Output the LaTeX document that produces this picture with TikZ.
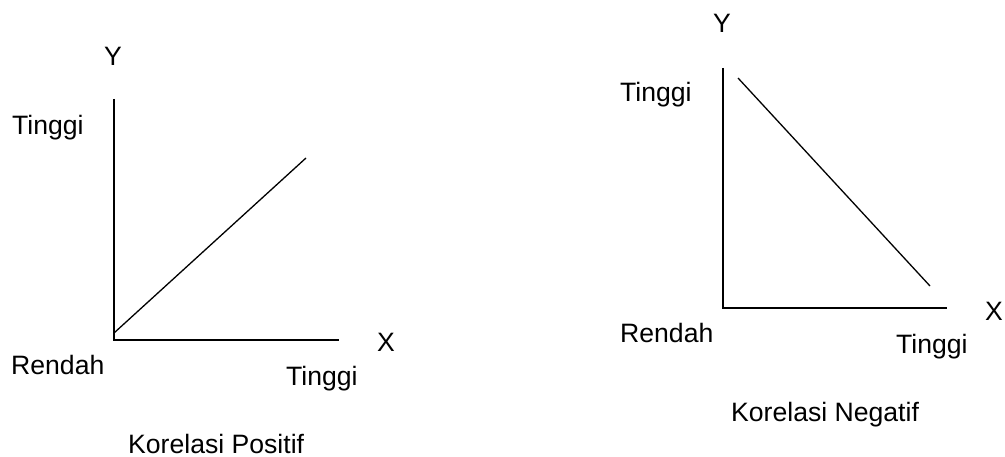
\documentclass[tikz,border=0pt]{standalone}
\usepackage{fontspec}
\setmainfont{Liberation Sans}
\begin{document}
\begin{tikzpicture}[x=1pt,y=1pt,
  lbl/.style={inner sep=0pt,font=\fontsize{26.6}{30}\selectfont},
  axis/.style={line width=2pt},
  trend/.style={line width=1.3pt}]
\useasboundingbox (0,0) rectangle (1005,-457);

% positive correlation
\coordinate (pO) at (114,-340);
\coordinate (pY) at (114,-99);
\coordinate (pX) at (339,-340);
\coordinate (pA) at (114,-333);
\coordinate (pB) at (306,-158);
\draw[axis] (pY) -- (pO) -- (pX);
\draw[trend] (pA) -- (pB);
\node[lbl,anchor=base] (pYl) at (113,-66) {Y};
\node[lbl,anchor=base west] (pHi) at (12,-135) {Tinggi};
\node[lbl,anchor=base] (pXl) at (386,-352) {X};
\node[lbl,anchor=base west] (pLo) at (11,-374) {Rendah};
\node[lbl,anchor=base west] (pHx) at (286,-385) {Tinggi};
\node[lbl,anchor=base west] (pT) at (128,-453) {Korelasi Positif};

% negative correlation
\coordinate (nO) at (723,-308);
\coordinate (nY) at (723,-68);
\coordinate (nX) at (947,-308);
\coordinate (nA) at (738,-78);
\coordinate (nB) at (930,-286);
\draw[axis] (nY) -- (nO) -- (nX);
\draw[trend] (nA) -- (nB);
\node[lbl,anchor=base] (nYl) at (722,-33) {Y};
\node[lbl,anchor=base west] (nHi) at (620,-102) {Tinggi};
\node[lbl,anchor=base] (nXl) at (994,-321) {X};
\node[lbl,anchor=base west] (nLo) at (620,-343) {Rendah};
\node[lbl,anchor=base west] (nHx) at (896,-353) {Tinggi};
\node[lbl,anchor=base west] (nT) at (731,-421) {Korelasi Negatif};
\end{tikzpicture}
\end{document}
